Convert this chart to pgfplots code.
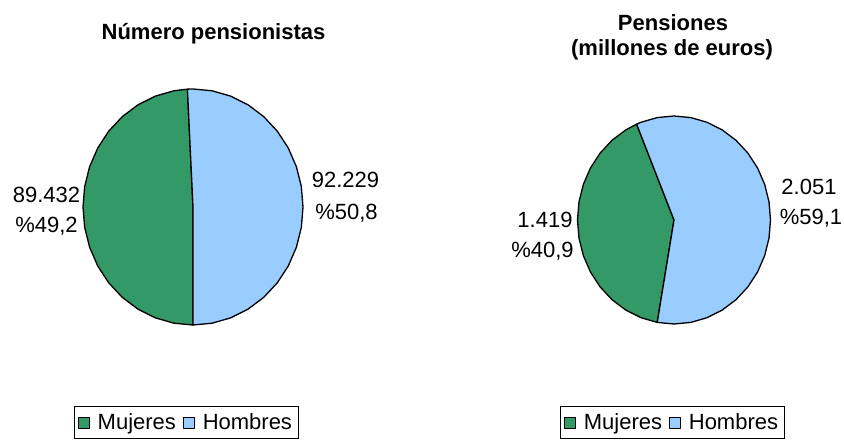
\documentclass[border=0pt]{standalone}
\usepackage{fontspec}
\setmainfont{Liberation Sans}
\usepackage{pgfplots}
\pgfplotsset{compat=1.18}
\definecolor{mujeres}{RGB}{51,153,102}
\definecolor{hombres}{RGB}{153,204,255}
\pgfplotsset{pie/.style={hide axis, scale only axis, clip=false,
  xmin=-1,xmax=1,ymin=-1,ymax=1, anchor=center, legend columns=2,
  legend image code/.code={\draw[##1,draw=black,line width=0.8pt] (0pt,-5.5pt) rectangle (11pt,5.5pt);},
  legend style={draw=black, line width=0.8pt, font=\fontsize{22}{26}\selectfont, anchor=center,
    /tikz/every odd column/.append style={column sep=6pt},
    /tikz/every even column/.append style={column sep=5pt}, inner xsep=4pt, inner ysep=5pt}},
  slice/.style={draw=black, line width=1.3pt, line join=round, data cs=polar, mark=none}}
\begin{document}
\begin{tikzpicture}
\useasboundingbox (0,0) rectangle (844pt,446pt);
\tikzset{lbl/.style={anchor=base, font=\fontsize{22}{26}\selectfont, inner sep=0pt}}
% Numero pensionistas: Mujeres 89432 (49.2%), Hombres 92229 (50.8%)
\begin{axis}[pie, at={(193pt,239pt)}, width=220pt, height=236pt,
  legend style={at={(0.468,-0.413)}}]
\addplot[slice, fill=mujeres] coordinates {(0,0) (92.9,1) (100,1) (110,1) (120,1) (130,1) (140,1) (150,1) (160,1) (170,1) (180,1) (190,1) (200,1) (210,1) (220,1) (230,1) (240,1) (250,1) (260,1) (270,1)} -- cycle;
\addlegendentry{Mujeres}
\addplot[slice, fill=hombres] coordinates {(0,0) (270,1) (280,1) (290,1) (300,1) (310,1) (320,1) (330,1) (340,1) (350,1) (360,1) (370,1) (380,1) (390,1) (400,1) (410,1) (420,1) (430,1) (440,1) (450,1) (452.9,1)} -- cycle;
\addlegendentry{Hombres}
\end{axis}
% Pensiones: Mujeres 1419 (40.9%), Hombres 2051 (59.1%)
\begin{axis}[pie, at={(674pt,226pt)}, width=193pt, height=208pt,
  legend style={at={(0.49,-0.474)}}]
\addplot[slice, fill=mujeres] coordinates {(0,0) (112.8,1) (120,1) (130,1) (140,1) (150,1) (160,1) (170,1) (180,1) (190,1) (200,1) (210,1) (220,1) (230,1) (240,1) (250,1) (260,1)} -- cycle;
\addlegendentry{Mujeres}
\addplot[slice, fill=hombres] coordinates {(0,0) (260,1) (270,1) (280,1) (290,1) (300,1) (310,1) (320,1) (330,1) (340,1) (350,1) (360,1) (370,1) (380,1) (390,1) (400,1) (410,1) (420,1) (430,1) (440,1) (450,1) (460,1) (470,1) (472.8,1)} -- cycle;
\addlegendentry{Hombres}
\end{axis}
\node[lbl, font=\fontsize{22}{26}\selectfont\bfseries] at (213.5pt,406pt) {Número pensionistas};
\node[lbl, font=\fontsize{22}{26}\selectfont\bfseries] at (673pt,415pt) {Pensiones};
\node[lbl, font=\fontsize{22}{26}\selectfont\bfseries] at (672pt,390pt) {(millones de euros)};
\node[lbl] at (46.5pt,243pt) {89.432};
\node[lbl] at (46.5pt,213pt) {\%49,2};
\node[lbl] at (345.5pt,258pt) {92.229};
\node[lbl] at (346.5pt,226pt) {\%50,8};
\node[lbl] at (545pt,218pt) {1.419};
\node[lbl] at (542.5pt,188pt) {\%40,9};
\node[lbl] at (809pt,251pt) {2.051};
\node[lbl] at (811pt,221pt) {\%59,1};
\end{tikzpicture}
\end{document}
